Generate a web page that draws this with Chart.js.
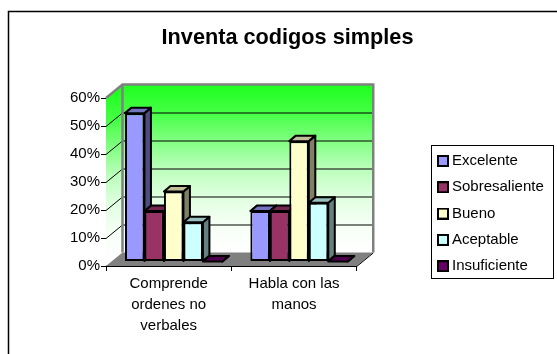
<!DOCTYPE html>
<html><head><meta charset="utf-8">
<style>html,body{margin:0;padding:0;background:#fff}#wrap{position:relative;width:557px;height:354px}canvas{display:block}</style>
<script src="https://cdn.jsdelivr.net/npm/chart.js@4"></script>
</head><body><div id="wrap"><canvas id="c" width="557" height="354"></canvas></div>
<script>
const categories = [['Comprende','ordenes no','verbales'],['Habla con las','manos']];
const seriesNames = ['Excelente','Sobresaliente','Bueno','Aceptable','Insuficiente'];
const excelente = [53,18];
const sobresaliente = [18,18];
const bueno = [25,43];
const aceptable = [14,21];
const insuficiente = [0,0];
const yTicks = [0,10,20,30,40,50,60];
const fronts = ['#9999FF','#993366','#FFFFCC','#CCFFFF','#660066'];
const tops = ['#7373BF','#732650','#BFBF99','#99BFBF','#4D004D'];
const sides = ['#4D4D80','#4D1A33','#808066','#668080','#330033'];
const allValues = [excelente,sobresaliente,bueno,aceptable,insuficiente];
const WALL = {dx:16.5, dy:13.5};
const BAR = {dx:6.5, dy:5.5, sx:5, sy:-4.5};
function poly(ctx,pts,fill,stroke,lw){
  ctx.beginPath();pts.forEach((p,i)=>i?ctx.lineTo(p[0],p[1]):ctx.moveTo(p[0],p[1]));ctx.closePath();
  if(fill){ctx.fillStyle=fill;ctx.fill();}
  if(stroke){ctx.strokeStyle=stroke;ctx.lineWidth=lw;ctx.lineJoin='round';ctx.stroke();}
}
function swatch(color){
  const s=document.createElement('canvas');s.width=12;s.height=12;
  const x=s.getContext('2d');x.fillStyle='#000';x.fillRect(0,0,12,12);x.fillStyle=color;x.fillRect(2,2,8,8);
  return s;
}
function wallGradient(ctx,y0,y1){
  const g=ctx.createLinearGradient(0,y0,0,y1);
  g.addColorStop(0,'#1EFF1E');g.addColorStop(.17,'#45FF45');g.addColorStop(.33,'#80FF80');
  g.addColorStop(.5,'#BBFFBB');g.addColorStop(.67,'#E0FFE0');g.addColorStop(.83,'#F5FFF5');g.addColorStop(1,'#FFFFFF');
  return g;
}
const frame = {id:'frame',
  beforeDatasetsDraw(chart){
    const {ctx,chartArea:a,scales:{y}}=chart;
    const {dx,dy}=WALL;
    ctx.save();
    ctx.strokeStyle='#000';ctx.lineWidth=1.5;
    ctx.beginPath();ctx.moveTo(8.5,354);ctx.lineTo(8.5,11.5);ctx.lineTo(557,11.5);ctx.stroke();
    poly(ctx,[[a.left+dx,a.top-dy],[a.right+dx,a.top-dy],[a.right+dx,a.bottom-dy],[a.left+dx,a.bottom-dy]],wallGradient(ctx,a.top-dy,a.bottom-dy));
    poly(ctx,[[a.left,a.top],[a.left+dx,a.top-dy],[a.left+dx,a.bottom-dy],[a.left,a.bottom]],wallGradient(ctx,a.top-dy/2,a.bottom-dy/2));
    poly(ctx,[[a.left,a.bottom],[a.right,a.bottom],[a.right+dx,a.bottom-dy],[a.left+dx,a.bottom-dy]],'#808080');
    ctx.strokeStyle='#000';ctx.lineWidth=1;
    yTicks.slice(1,-1).forEach(t=>{
      const p=Math.round(y.getPixelForValue(t))+.5;
      ctx.beginPath();ctx.moveTo(a.left,p);ctx.lineTo(a.left+dx,p-dy);ctx.lineTo(a.right+dx,p-dy);ctx.stroke();
    });
    ctx.strokeStyle='#808080';ctx.lineWidth=2.5;ctx.lineJoin='miter';
    ctx.beginPath();ctx.moveTo(a.left,a.top);ctx.lineTo(a.left+dx,a.top-dy);ctx.lineTo(a.right+dx,a.top-dy);ctx.lineTo(a.right+dx,a.bottom-dy);ctx.stroke();
    ctx.beginPath();ctx.moveTo(a.left+dx,a.top-dy);ctx.lineTo(a.left+dx,a.bottom-dy);ctx.stroke();
    ctx.strokeStyle='#000';ctx.lineWidth=1;
    ctx.beginPath();ctx.moveTo(a.right,a.bottom+.5);ctx.lineTo(a.right+dx,a.bottom-dy+.5);ctx.stroke();
    seriesNames.forEach((n,i)=>{
      const meta=chart.getDatasetMeta(i);
      ctx.save();
      ctx.translate(BAR.sx,BAR.sy);
      meta.data.forEach(b=>{
        const l=b.x-b.width/2,r=b.x+b.width/2,t=b.y,bot=b.base;
        poly(ctx,[[r,t],[r+BAR.dx,t-BAR.dy],[r+BAR.dx,bot-BAR.dy],[r,bot]],sides[i],'#000',2);
        poly(ctx,[[l,t],[l+BAR.dx,t-BAR.dy],[r+BAR.dx,t-BAR.dy],[r,t]],tops[i],'#000',2);
      });
      meta.controller.draw();
      ctx.restore();
    });
    ctx.restore();
    return false;
  },
  afterLayout(chart){
    const L=chart.legend;
    const w=L.width,h=L.height;
    L.left=430.2;L.right=430.2+w;L.top=142.2;L.bottom=142.2+h;
    L.adjustHitBoxes();
    const T=chart.titleBlock;
    T.left=8;T.right=567;
  },
  afterDraw(chart){
    const {ctx}=chart;
    ctx.save();ctx.strokeStyle='#000';ctx.lineWidth=1;ctx.strokeRect(431.5,145.5,122,133);ctx.restore();
  }
};
new Chart(document.getElementById('c'),{
  type:'bar',
  data:{labels:categories,datasets:seriesNames.map((n,i)=>({
    label:n,data:allValues[i],backgroundColor:fronts[i],borderColor:'#000',borderWidth:2,borderSkipped:false,
    clip:false,barPercentage:1,categoryPercentage:0.777
  }))},
  plugins:[frame],
  options:{
    responsive:false,animation:false,
    layout:{padding:{left:8,top:11,right:84,bottom:0}},
    scales:{
      x:{grid:{display:true,offset:true,drawOnChartArea:false,drawTicks:true,tickLength:5,color:'#000'},
        border:{color:'#000',width:1},
        afterFit(s){s.height=88;},
        ticks:{color:'#000',font:{size:15,lineHeight:1.4,family:'"Liberation Sans",Arial,sans-serif'},maxRotation:0,autoSkip:false,padding:2}},
      y:{min:0,max:60,grid:{display:true,drawOnChartArea:false,drawTicks:true,tickLength:5,color:'#000'},
        border:{color:'#000',width:1},
        afterFit(s){s.width=98;},
        afterBuildTicks(s){s.ticks=yTicks.map(v=>({value:v}));},
        ticks:{color:'#000',padding:1,font:{size:15,family:'"Liberation Sans",Arial,sans-serif'},callback:v=>v+'%'}}
    },
    plugins:{
      tooltip:{enabled:false},
      title:{display:true,text:'Inventa codigos simples',color:'#000',font:{size:21.7,weight:'bold',family:'"Liberation Sans",Arial,sans-serif'},padding:{top:14,bottom:47}},
      legend:{position:'right',align:'start',labels:{usePointStyle:true,pointStyleWidth:3,boxHeight:12,padding:11.3,color:'#000',font:{size:15,family:'"Liberation Sans",Arial,sans-serif'},
        generateLabels(chart){return seriesNames.map((n,i)=>({text:n,fillStyle:fronts[i],strokeStyle:'#000',lineWidth:2,datasetIndex:i,fontColor:'#000',pointStyle:swatch(fronts[i])}));}}}
    }
  }
});
</script></body></html>
